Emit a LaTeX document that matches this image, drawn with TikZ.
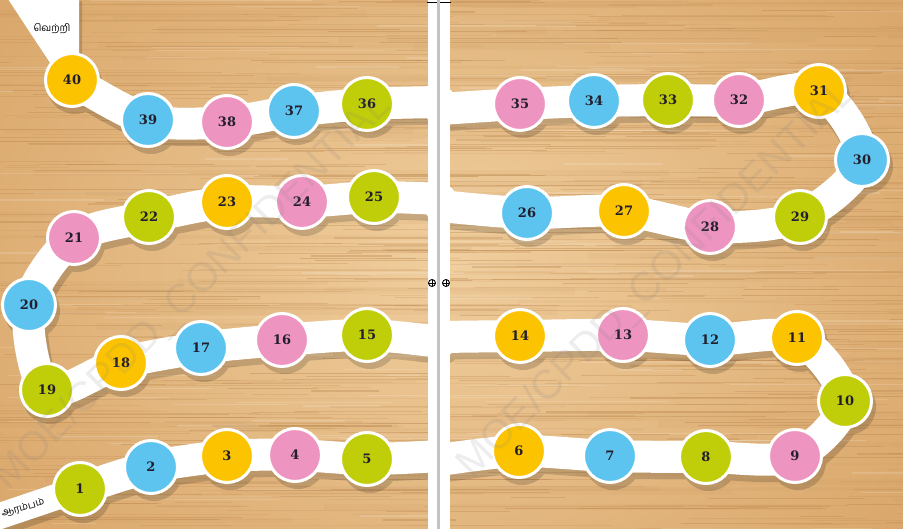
\documentclass[tikz,border=0pt]{standalone}
\usepackage{fontspec}
\newfontfamily\numfont{DejaVu Serif}
\newfontfamily\tamilfont[Script=Tamil]{Hind Madurai}
\newfontfamily\wmfont{Liberation Sans}
\definecolor{wood}{RGB}{218,168,108}
\definecolor{woodlight}{RGB}{240,206,158}
\definecolor{wooddark}{RGB}{185,132,75}
\definecolor{cyel}{RGB}{252,196,0}
\definecolor{cblue}{RGB}{92,196,238}
\definecolor{cpink}{RGB}{238,148,192}
\definecolor{cgreen}{RGB}{192,206,10}
\definecolor{numtxt}{RGB}{35,30,45}
\definecolor{foldgray}{RGB}{195,195,195}
\newcommand\boardpath{%
 plot[smooth,tension=0.5] coordinates {(p1) (p2) (p3) (p4) (p5) (f1)}
 plot[smooth,tension=0.5] coordinates {(f2) (p6) (p7) (p8) (p9) (p10) (p11) (p12) (p13) (p14) (f3)}
 plot[smooth,tension=0.5] coordinates {(f4) (p15) (p16) (p17) (p18) (p19) (p20) (p21) (p22) (p23) (p24) (p25) (f5)}
 plot[smooth,tension=0.5] coordinates {(f6) (p26) (p27) (p28) (p29) (p30) (p31) (p32) (p33) (p34) (p35) (f7)}
 plot[smooth,tension=0.5] coordinates {(f8) (p36) (p37) (p38) (p39) (p40)}}
\begin{document}
\begin{tikzpicture}[x=1pt,y=-1pt,
  band/.style={draw=white,line width=32pt,line cap=round,line join=round},
  disc/.style={circle,draw=white,line width=3pt,minimum size=53pt,inner sep=0pt,
     font=\numfont\bfseries\fontsize{13}{13}\selectfont,text=numtxt},
  tamil/.style={font=\tamilfont\fontsize{10}{10}\selectfont,text=black},
  wm/.style={font=\wmfont\fontsize{41}{41}\selectfont,text=gray,text opacity=0.14,inner sep=0pt},
  regmark/.style={circle,draw=black,line width=0.9pt,minimum size=7pt,inner sep=0pt,fill=white,
     path picture={\draw[line width=0.6pt] (path picture bounding box.north) -- (path picture bounding box.south)
        (path picture bounding box.west) -- (path picture bounding box.east);}}]
\useasboundingbox (0,0) rectangle (903,529);
\begin{scope}
\clip (0,0) rectangle (903,529);
% wood background
\shade[inner color=woodlight,outer color=wood] (-100,-150) rectangle (1003,679);
\pgfmathsetseed{42}
\foreach \i in {1,...,90}{
  \pgfmathsetmacro{\yy}{rnd*540}
  \pgfmathsetmacro{\xx}{rnd*1000-100}
  \pgfmathsetmacro{\ll}{150+rnd*500}
  \pgfmathsetmacro{\ww}{2+rnd*6}
  \draw[wooddark,line width=\ww pt,opacity=0.07] (\xx,\yy) -- ++(\ll,0);
}
\foreach \i in {1,...,650}{
  \pgfmathsetmacro{\yy}{rnd*535}
  \pgfmathsetmacro{\xx}{rnd*1000-80}
  \pgfmathsetmacro{\ll}{30+rnd*260}
  \pgfmathsetmacro{\ww}{0.3+rnd*1.0}
  \pgfmathsetmacro{\oo}{0.1+rnd*0.3}
  \draw[wooddark,line width=\ww pt,opacity=\oo] (\xx,\yy) -- ++(\ll,0);
}
\foreach \i in {1,...,150}{
  \pgfmathsetmacro{\yy}{rnd*535}
  \pgfmathsetmacro{\xx}{rnd*1000-80}
  \pgfmathsetmacro{\ll}{30+rnd*200}
  \pgfmathsetmacro{\ww}{0.5+rnd*1.5}
  \draw[white,line width=\ww pt,opacity=0.15] (\xx,\yy) -- ++(\ll,0);
}
% coordinates
\foreach \n/\x/\y in {1/80/489,2/151/467,3/227/456,4/295/455,5/367/459,6/519/451,7/610/456,8/706/457,
  9/795/456,10/845/401,11/797/338,12/710/340,13/623/335,14/520/336,15/367/335,16/282/340,17/201/348,
  18/121/363,19/47/390,20/29/305,21/74/238,22/149/217,23/227/202,24/302/202,25/374/197,26/527/213,
  27/624/211,28/710/227,29/800/217,30/862/160,31/819/91,32/739/100,33/668/100,34/594/101,35/520/104,
  36/367/104,37/294/111,38/227/122,39/148/120,40/72/80}
  {\coordinate (p\n) at (\x,\y);}
\coordinate (f1) at (440,456);
\coordinate (f2) at (440,460);
\coordinate (f3) at (440,337);
\coordinate (f4) at (440,342);
\coordinate (f5) at (440,199);
\coordinate (f6) at (440,206);
\coordinate (f7) at (440,109);
\coordinate (f8) at (440,102);
\coordinate (s0) at (-12,520);
% shadows
\begin{scope}[transform canvas={shift={(3,6)}},transparency group,opacity=0.16]
  \draw[black,line width=33pt,line cap=round,line join=round] \boardpath;
  \draw[black,line width=26pt] (s0) -- (p1);
  \foreach \n in {1,...,40}{\fill[black] (p\n) circle (28);}
  \fill[black] (8,-5) -- (79,-5) -- (79,70) -- (52,66) -- cycle;
\end{scope}
% white path
\draw[band] \boardpath;
\draw[band,line width=26pt,line cap=butt] (s0) -- (p1);
\fill[white] (8,-1) -- (79,-1) -- (79,70) -- (52,66) -- cycle;
% discs
\foreach \n/\c in {1/cgreen,2/cblue,3/cyel,4/cpink,5/cgreen,6/cyel,7/cblue,8/cgreen,9/cpink,10/cgreen,
  11/cyel,12/cblue,13/cpink,14/cyel,15/cgreen,16/cpink,17/cblue,18/cyel,19/cgreen,20/cblue,
  21/cpink,22/cgreen,23/cyel,24/cpink,25/cgreen,26/cblue,27/cyel,28/cpink,29/cgreen,30/cblue,
  31/cyel,32/cpink,33/cgreen,34/cblue,35/cpink,36/cgreen,37/cblue,38/cpink,39/cblue,40/cyel}
  {\node[disc,fill=\c] (c\n) at (p\n) {\n};}
% labels
\node[tamil] (win) at (52,29) {வெற்றி};
\node[tamil,rotate=16] (start) at (23,508) {ஆரம்பம்};
% fold
\fill[white] (428,-1) rectangle (450,530);
\fill[foldgray] (437.3,-1) rectangle (440,530);
\draw[black,line width=1pt] (427,3) -- (437,3) (440,3) -- (451,3);
\node[regmark] (r1) at (432,283) {};
\node[regmark] (r2) at (446,283) {};
% watermark
\node[wm,rotate=45,anchor=base west] (wm1) at (8,492) {MOE/CPDD\_CONFIDENTIAL};
\node[wm,rotate=45,anchor=base west] (wm2) at (472,480) {MOE/CPDD\_CONFIDENTIAL};
\end{scope}
\end{tikzpicture}
\end{document}
